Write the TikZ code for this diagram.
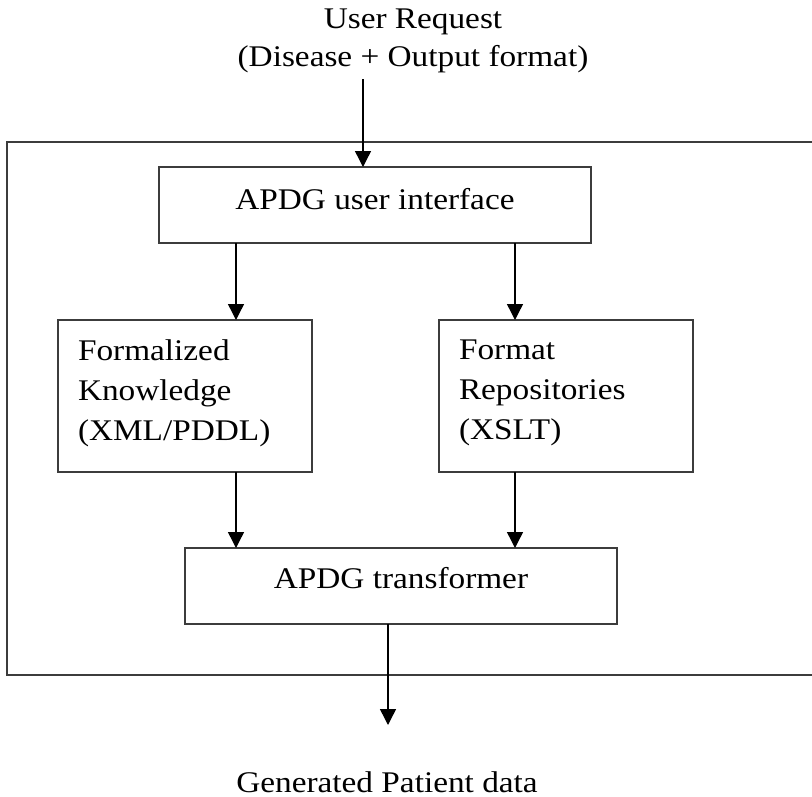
\documentclass[tikz,border=0pt]{standalone}
\usepackage{fontspec}
\setmainfont[FakeStretch=1.11]{Liberation Serif}
\usetikzlibrary{arrows.meta}
\definecolor{boxgray}{RGB}{60,60,60}
\begin{document}
\begin{tikzpicture}[x=1pt,y=-1pt,
  every node/.style={font=\fontsize{30pt}{40pt}\selectfont, text=black},
  box/.style={draw=boxgray, line width=1.3pt, inner sep=0pt, outer sep=0pt},
  textbox/.style={box, anchor=north west, minimum width=254pt, minimum height=152pt,
    text width=214pt, align=left, inner xsep=20pt},
  widebox/.style={box, anchor=north west, minimum width=432pt},
  arr/.style={draw=black, line width=1.4pt, -{Triangle[width=16pt,length=16pt]}},
]
\useasboundingbox (0,0) rectangle (812,796);

% system frame (its right side runs past the page edge)
\node[box, anchor=north west, minimum width=810pt, minimum height=533pt] (system) at (7,142) {};

% components
\node[widebox, text height=42pt, text depth=34pt] (ui) at (159,167) {APDG user interface};
\node[textbox] (fk) at (58,320) {Formalized\\Knowledge\\(XML/PDDL)\rule[-12pt]{0pt}{1pt}};
\node[textbox] (fr) at (439,320) {Format\\Repositories\\(XSLT)\rule[-12pt]{0pt}{1pt}};
\node[widebox, text height=40pt, text depth=36pt] (tr) at (185,548) {APDG transformer};

% input and output labels (base anchor sits on the last line)
\begin{scope}
  \clip (0,0) rectangle (812,72);
  \node[align=center, anchor=base, inner sep=0pt, font=\fontsize{30pt}{38pt}\selectfont]
    (request) at (413,66) {User Request\\(Disease + Output format)};
\end{scope}
\node[anchor=base, inner sep=0pt] (result) at (387,792) {Generated Patient data};

% connector anchors
\coordinate (reqout) at (363,79);
\coordinate (resin) at (388,725);
\coordinate (lx) at (236,0);
\coordinate (rx) at (515,0);

% flow
\draw[arr] (reqout) -- (reqout |- ui.north);
\draw[arr] (ui.south -| lx) -- (fk.north -| lx);
\draw[arr] (ui.south -| rx) -- (fr.north -| rx);
\draw[arr] (fk.south -| lx) -- (tr.north -| lx);
\draw[arr] (fr.south -| rx) -- (tr.north -| rx);
\draw[arr] (tr.south -| resin) -- (resin);
\end{tikzpicture}
\end{document}
